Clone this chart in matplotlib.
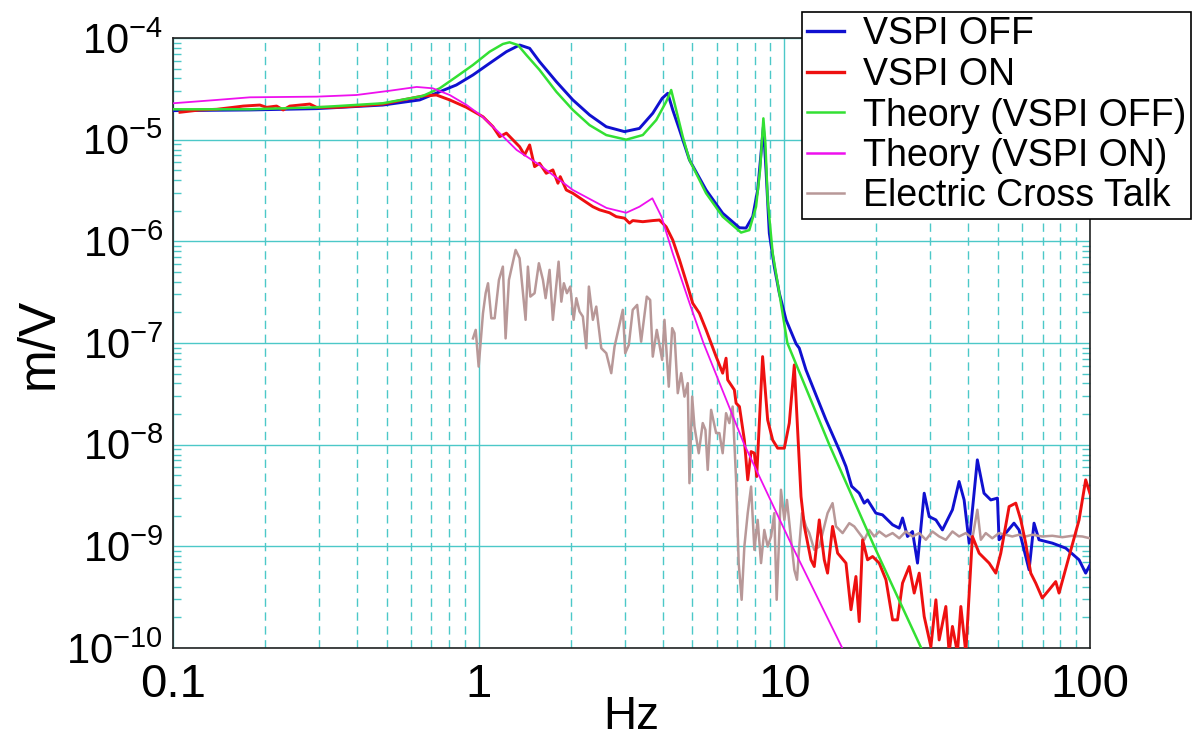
import matplotlib
matplotlib.use("Agg")
import matplotlib.pyplot as plt
from matplotlib.ticker import FixedLocator, FixedFormatter, NullFormatter
from matplotlib.lines import Line2D

plt.rcParams['font.family'] = ['Liberation Sans', 'DejaVu Sans']
plt.rcParams['mathtext.fontset'] = 'custom'
plt.rcParams['mathtext.rm'] = 'Liberation Sans'
plt.rcParams['mathtext.it'] = 'Liberation Sans'
plt.rcParams['mathtext.bf'] = 'Liberation Sans'

# ---------------- data (Hz, m/V) ----------------
off_f = [0.1, 0.1785, 0.2955, 0.4857, 0.6415, 0.7456, 0.8453, 0.958, 1.086, 1.232,
         1.361, 1.468, 1.582, 1.795, 2.033, 2.306, 2.615, 3.0, 3.357, 3.712,
         3.984, 4.155, 4.315, 4.54, 4.893, 5.547, 6.285, 7.13, 7.495, 7.88,
         8.18, 8.39, 8.54, 8.71, 8.93, 9.27, 9.63, 10.13, 10.93, 11.19,
         11.77, 13.01, 13.69, 15.12, 15.91, 16.6, 17.58, 18.25, 18.72, 19.93,
         20.95, 22.6, 23.76, 24.36, 25.29, 26.26, 27.27, 28.68, 29.78, 31.32,
         32.9, 35.48, 37.3, 38.74, 40.24, 42.8, 45.0, 47.36, 49.8, 50.4,
         53.0, 56.4, 58.6, 63.2, 65.6, 68.1, 75.3, 83.3, 92.1, 96.8, 100.0]
off_v = [1.93e-5, 1.96e-5, 2.02e-5, 2.19e-5, 2.46e-5, 2.96e-5, 3.45e-5, 4.33e-5, 5.64e-5, 7.33e-5,
         8.53e-5, 7.92e-5, 5.85e-5, 3.72e-5, 2.46e-5, 1.75e-5, 1.34e-5, 1.2e-5, 1.29e-5, 1.82e-5,
         2.55e-5, 2.86e-5, 1.96e-5, 1.25e-5, 6.32e-6, 3.2e-6, 1.89e-6, 1.36e-6, 1.35e-6, 1.75e-6,
         3.2e-6, 7.35e-6, 1.34e-5, 5.04e-6, 1.2e-6, 5.64e-7, 3.09e-7, 1.69e-7, 9.8e-8, 8.9e-8,
         5.44e-8, 2.56e-8, 1.75e-8, 8.89e-9, 6.09e-9, 3.9e-9, 3.33e-9, 2.66e-9, 2.86e-9, 2.12e-9,
         2.04e-9, 1.63e-9, 1.51e-9, 1.9e-9, 1.25e-9, 1.40e-9, 6.84e-10, 3.33e-9, 1.96e-9, 1.82e-9,
         1.45e-9, 2.29e-9, 4.34e-9, 2.86e-9, 1.075e-9, 7.09e-9, 3.33e-9, 2.86e-9, 2.98e-9, 1.16e-9,
         1.35e-9, 1.69e-9, 1.45e-9, 5.87e-10, 1.69e-9, 1.16e-9, 1.075e-9, 9.6e-10, 7.37e-10, 5.45e-10, 6.58e-10]

on_f = [0.1054, 0.1225, 0.139, 0.1574, 0.1697, 0.1924, 0.2023, 0.2182, 0.2293, 0.2411,
        0.2803, 0.2948, 0.3428, 0.3984, 0.4868, 0.5655, 0.6577, 0.7276, 0.8039, 0.9116,
        1.033, 1.114, 1.171, 1.232, 1.361, 1.413, 1.468, 1.524, 1.582, 1.664,
        1.749, 1.817, 1.849, 1.935, 2.033, 2.192, 2.364, 2.486, 2.68, 2.818,
        3.0, 3.115, 3.192, 3.443, 3.712, 3.904, 4.106, 4.315, 4.54, 4.831,
        5.015, 5.275, 5.547, 5.982, 6.285, 6.447, 6.526, 6.862, 6.953, 7.13,
        7.40, 7.59, 7.785, 7.98, 8.12, 8.49, 8.82, 9.16, 9.51, 10.0,
        10.38, 10.78, 11.34, 11.63, 12.22, 12.53, 13.01, 13.51, 13.85, 14.38,
        14.94, 15.91, 16.52, 17.15, 17.58, 18.03, 18.72, 19.44, 20.44, 21.5,
        22.6, 23.46, 24.36, 25.62, 26.6, 27.62, 28.68, 30.16, 31.32, 32.1,
        33.76, 34.6, 35.48, 36.84, 37.8, 39.24, 41.24, 43.38, 46.77, 49.18,
        51.07, 54.37, 57.18, 59.37, 61.6, 64.0, 66.45, 69.8, 73.45, 77.25,
        79.2, 85.4, 92.1, 96.8, 100.0]
on_v = [1.86e-5, 1.96e-5, 1.99e-5, 2.08e-5, 2.14e-5, 2.19e-5, 2.08e-5, 2.14e-5, 1.96e-5, 2.14e-5,
        2.24e-5, 2.08e-5, 2.08e-5, 2.14e-5, 2.24e-5, 2.46e-5, 2.69e-5, 2.75e-5, 2.46e-5, 2.08e-5,
        1.68e-5, 1.34e-5, 1.07e-5, 1.16e-5, 8.53e-6, 7.07e-6, 8.87e-6, 5.43e-6, 5.86e-6, 4.67e-6,
        5.04e-6, 3.73e-6, 4.33e-6, 3.2e-6, 2.97e-6, 2.55e-6, 2.19e-6, 2.04e-6, 1.91e-6, 1.75e-6,
        1.69e-6, 1.51e-6, 1.6e-6, 1.56e-6, 1.6e-6, 1.62e-6, 1.39e-6, 1.03e-6, 6.56e-7, 3.59e-7,
        2.46e-7, 1.96e-7, 1.345e-7, 7.35e-8, 5.05e-8, 7.09e-8, 4.34e-8, 3.46e-8, 2.56e-8, 2.37e-8,
        1.11e-8, 4.51e-9, 8.55e-9, 8.25e-9, 4.86e-9, 7.35e-8, 1.75e-8, 1.11e-8, 9.24e-9, 9.24e-9,
        1.63e-8, 6.09e-8, 3.09e-9, 1.57e-9, 7.37e-10, 6.33e-10, 1.82e-9, 7.37e-10, 5.45e-10, 1.57e-9,
        8.57e-10, 6.84e-10, 2.38e-10, 5.05e-10, 1.82e-10, 1.16e-9, 7.37e-10, 7.94e-10, 6.84e-10, 4.69e-10,
        1.89e-10, 1.89e-10, 4.35e-10, 6.33e-10, 3.47e-10, 5.45e-10, 2.04e-10, 1.03e-10, 2.98e-10, 1.2e-10,
        2.56e-10, 9e-11, 1.63e-10, 9e-11, 2.56e-10, 9e-11, 1.25e-9, 8.57e-10, 6.84e-10, 5.45e-10,
        8.57e-10, 2.46e-9, 2.66e-9, 1.82e-9, 1.075e-9, 5.45e-10, 4.35e-10, 3.1e-10, 3.73e-10, 4.5e-10,
        3.47e-10, 7.94e-10, 1.82e-9, 4.51e-9, 3.3e-9]

th_off_f = [0.1, 0.1785, 0.2955, 0.4857, 0.656, 0.7456, 0.8453, 0.958, 1.086, 1.20,
            1.262, 1.344, 1.432, 1.582, 1.795, 2.033, 2.306, 2.615, 3.039, 3.443,
            3.81, 4.106, 4.264, 4.428, 4.653, 4.893, 5.547, 6.285, 7.22, 7.68,
            8.08, 8.33, 8.54, 8.67, 8.82, 9.16, 9.63, 10.23, 14.03, 19.68, 28.04]
th_off_v = [1.99e-5, 1.99e-5, 2.08e-5, 2.28e-5, 2.69e-5, 3.2e-5, 4.16e-5, 5.43e-5, 7.33e-5, 8.73e-5,
            9.07e-5, 8.53e-5, 6.81e-5, 4.85e-5, 2.96e-5, 1.96e-5, 1.39e-5, 1.11e-5, 1.0e-5, 1.11e-5,
            1.56e-5, 2.36e-5, 3.08e-5, 1.96e-5, 1.07e-5, 6.32e-6, 2.97e-6, 1.75e-6, 1.22e-6, 1.29e-6,
            2.19e-6, 5.04e-6, 1.62e-5, 9.22e-6, 2.55e-6, 7.64e-7, 3.09e-7, 1.0e-7, 1.0e-8, 1.0e-9, 1.0e-10]

th_on_f = [0.1, 0.1393, 0.1785, 0.2955, 0.3984, 0.5121, 0.627, 0.7077, 0.8039, 0.9139,
           1.03, 1.171, 1.331, 1.582, 2.033, 2.62, 3.039, 3.357, 3.70, 3.963,
           4.31, 4.893, 5.437, 7.40, 10.62, 15.47]
th_on_v = [2.28e-5, 2.46e-5, 2.61e-5, 2.65e-5, 2.75e-5, 3.03e-5, 3.3e-5, 3.2e-5, 2.75e-5, 2.19e-5,
           1.68e-5, 1.16e-5, 7.92e-6, 5.64e-6, 3.2e-6, 2.13e-6, 1.91e-6, 2.19e-6, 2.65e-6, 1.75e-6,
           7.69e-7, 2.48e-7, 1.0e-7, 1.0e-8, 1.0e-9, 1.0e-10]

xt_f = [0.958, 0.978, 1.0, 1.033, 1.054, 1.073, 1.10, 1.128, 1.165, 1.20,
        1.225, 1.256, 1.321, 1.361, 1.424, 1.449, 1.476, 1.524, 1.574, 1.623,
        1.656, 1.706, 1.749, 1.826, 1.864, 1.90, 1.944, 1.994, 2.045, 2.087,
        2.138, 2.192, 2.249, 2.294, 2.364, 2.425, 2.518, 2.615, 2.715, 2.783,
        2.962, 3.016, 3.099, 3.192, 3.30, 3.40, 3.548, 3.64, 3.712, 3.826,
        3.984, 4.054, 4.188, 4.296, 4.371, 4.481, 4.597, 4.713, 4.831, 4.893,
        4.994, 5.081, 5.248, 5.408, 5.519, 5.615, 5.761, 5.982, 6.13, 6.285,
        6.447, 6.61, 6.776, 6.953, 7.09, 7.25, 7.40, 7.59, 7.785, 7.98,
        8.18, 8.39, 8.60, 8.82, 9.05, 9.27, 9.44, 9.75, 10.0, 10.2,
        10.52, 10.78, 11.0, 11.19, 11.42, 11.77, 12.07, 12.53, 13.01, 13.34,
        13.85, 14.38, 14.76, 15.51, 16.31, 16.93, 17.58, 18.25, 18.96, 19.68,
        20.44, 21.5, 22.6, 23.76, 24.98, 26.26, 27.62, 29.04, 30.51, 32.1,
        33.76, 35.48, 37.3, 39.24, 41.24, 42.8, 43.94, 45.6, 47.9, 50.4,
        53.0, 55.7, 58.6, 61.6, 64.8, 69.8, 75.3, 81.2, 87.5, 94.4, 100.0]
xt_v = [1.11e-7, 1.345e-7, 5.86e-8, 1.96e-7, 3.09e-7, 3.87e-7, 1.75e-7, 1.75e-7, 4.17e-7, 5.64e-7,
        1.11e-7, 4.17e-7, 8.23e-7, 6.82e-7, 1.69e-7, 5.64e-7, 2.86e-7, 3.09e-7, 6.09e-7, 4.17e-7,
        2.76e-7, 5.24e-7, 1.69e-7, 6.31e-7, 2.55e-7, 3.87e-7, 3.09e-7, 3.59e-7, 1.69e-7, 2.76e-7,
        2.04e-7, 1.82e-7, 8.89e-8, 3.59e-7, 1.69e-7, 2.28e-7, 8.89e-8, 7.94e-8, 5.05e-8, 9.22e-8,
        2.12e-7, 7.94e-8, 9.58e-8, 2.12e-7, 2.37e-7, 1.03e-7, 2.86e-7, 2.65e-7, 7.35e-8, 1.345e-7,
        6.82e-8, 1.69e-7, 3.72e-8, 1.40e-7, 1.25e-7, 3.21e-8, 5.05e-8, 2.97e-8, 4.03e-8, 4.18e-9,
        2.97e-8, 1.51e-8, 8.24e-9, 1.63e-8, 1.40e-8, 5.65e-9, 2.2e-8, 1.30e-8, 1.30e-8, 8.24e-9,
        2.04e-8, 1.63e-8, 2.37e-8, 4.51e-9, 6.84e-10, 2.98e-10, 9.95e-10, 2.12e-9, 3.87e-9, 9.24e-10,
        1.82e-9, 6.84e-10, 1.45e-9, 9.95e-10, 1.25e-9, 2.12e-9, 2.98e-10, 3.6e-9, 1.82e-9, 2.86e-9,
        1.16e-9, 5.87e-10, 4.69e-10, 9.95e-10, 2.12e-9, 1.57e-9, 1.35e-9, 9.24e-10, 9.95e-10, 1.35e-9,
        2.12e-9, 2.66e-9, 1.57e-9, 1.35e-9, 1.69e-9, 1.57e-9, 1.35e-9, 1.16e-9, 1.45e-9, 1.25e-9,
        1.40e-9, 1.25e-9, 1.35e-9, 1.2e-9, 1.40e-9, 1.25e-9, 1.35e-9, 1.16e-9, 1.40e-9, 1.25e-9,
        1.16e-9, 1.40e-9, 1.25e-9, 1.35e-9, 1.2e-9, 2.29e-9, 1.16e-9, 1.35e-9, 1.2e-9, 1.35e-9,
        1.3e-9, 1.25e-9, 1.3e-9, 1.25e-9, 1.3e-9, 1.25e-9, 1.27e-9, 1.23e-9, 1.27e-9, 1.25e-9, 1.2e-9]

x_ticks = [0.1, 1, 10, 100]
x_labels = ['0.1', '1', '10', '100']
y_ticks = [1e-10, 1e-9, 1e-8, 1e-7, 1e-6, 1e-5, 1e-4]
y_labels = [r'$\mathregular{10^{-10}}$', r'$\mathregular{10^{-9}}$', r'$\mathregular{10^{-8}}$',
            r'$\mathregular{10^{-7}}$', r'$\mathregular{10^{-6}}$', r'$\mathregular{10^{-5}}$',
            r'$\mathregular{10^{-4}}$']
series_labels = ['VSPI OFF', 'VSPI ON', 'Theory (VSPI OFF)', 'Theory (VSPI ON)', 'Electric Cross Talk']

# ---------------- styling ----------------
C_OFF = '#1010d0'
C_ON = '#ee1010'
C_TOFF = '#33e033'
C_TON = '#ee10ee'
C_XT = '#b89898'
GRID = '#4cc8c8'

W, H = 1196, 739
fig = plt.figure(figsize=(W / 100, H / 100), dpi=100)
L, R, T, B = 173, 1090, 38, 648
ax = fig.add_axes([L / W, 1 - B / H, (R - L) / W, (B - T) / H])
ax.set_xscale('log')
ax.set_yscale('log')
ax.set_xlim(0.1, 100)
ax.set_ylim(1e-10, 1e-4)

ax.plot(off_f, off_v, color=C_OFF, lw=2.1, zorder=3)
ax.plot(xt_f, xt_v, color=C_XT, lw=1.8, zorder=3)
ax.plot(on_f, on_v, color=C_ON, lw=2.1, zorder=3)
ax.plot(th_off_f, th_off_v, color=C_TOFF, lw=1.8, zorder=3)
ax.plot(th_on_f, th_on_v, color=C_TON, lw=1.3, zorder=3)

ax.xaxis.set_major_locator(FixedLocator(x_ticks))
ax.xaxis.set_major_formatter(FixedFormatter(x_labels))
minor_x = [m * d for d in (0.1, 1, 10) for m in range(2, 10)]
ax.xaxis.set_minor_locator(FixedLocator(minor_x))
ax.xaxis.set_minor_formatter(NullFormatter())
ax.yaxis.set_major_locator(FixedLocator(y_ticks))
ax.yaxis.set_major_formatter(FixedFormatter(y_labels))
minor_y = [m * 10.0 ** e for e in range(-10, -4) for m in range(2, 10)]
ax.yaxis.set_minor_locator(FixedLocator(minor_y))
ax.yaxis.set_minor_formatter(NullFormatter())

ax.grid(which='major', axis='both', color=GRID, lw=1.0, ls='-', zorder=1)
ax.grid(which='minor', axis='x', color=GRID, lw=1.0, ls=(0, (6, 4)), zorder=1)
ax.set_axisbelow(True)

ax.tick_params(axis='x', which='both', length=0, pad=11, labelsize=34)
ax.tick_params(axis='y', which='major', length=0, pad=7, labelsize=30)
ax.tick_params(axis='y', which='minor', direction='in', length=6, width=1.0,
               color=GRID, left=True, right=True)

for s in ax.spines.values():
    s.set_color('#222222')
    s.set_linewidth(1.2)

ax.set_xlabel('Hz', fontsize=33, labelpad=-9)
ax.set_ylabel('m/V', fontsize=37, labelpad=2)

handles = [Line2D([], [], color=C_OFF, lw=2.4),
           Line2D([], [], color=C_ON, lw=2.4),
           Line2D([], [], color=C_TOFF, lw=1.8),
           Line2D([], [], color=C_TON, lw=1.8),
           Line2D([], [], color=C_XT, lw=1.8)]
leg = fig.legend(handles, series_labels, loc='upper left',
                 bbox_to_anchor=(802 / W, 1 - 12 / H), bbox_transform=fig.transFigure,
                 frameon=True, fancybox=False, edgecolor='black', framealpha=1,
                 fontsize=27, labelspacing=0.12, handlelength=1.0, handletextpad=0.5,
                 borderpad=0.12, borderaxespad=0)
leg.get_frame().set_linewidth(1.2)

fig.savefig('out.png', dpi=100)
